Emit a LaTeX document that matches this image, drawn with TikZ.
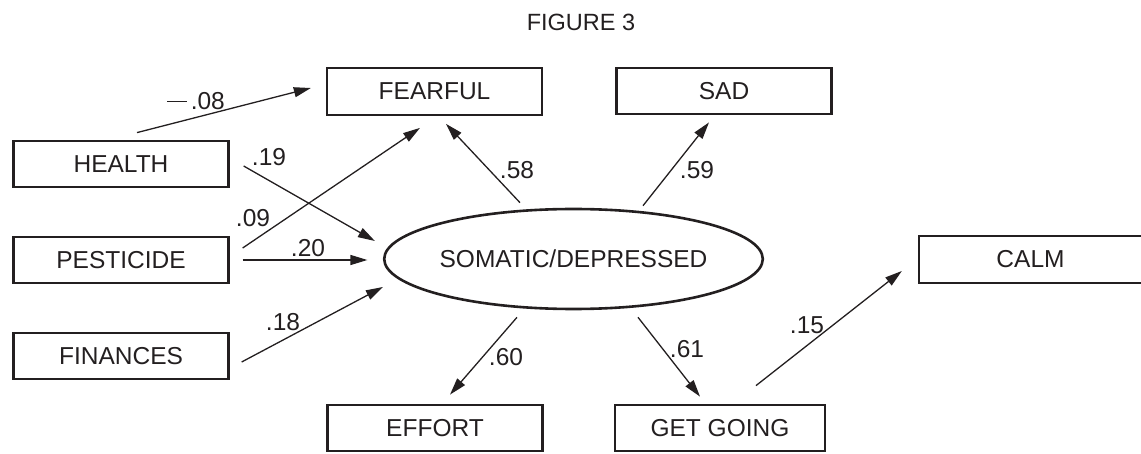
\documentclass[tikz,border=0pt]{standalone}
\usepackage{fontspec}
\setmainfont{Liberation Sans}
\usetikzlibrary{arrows.meta,shapes.geometric}
\definecolor{ink}{HTML}{231F20}
\begin{document}
\begin{tikzpicture}[x=1pt,y=-1pt,
  every node/.style={text=ink,font=\fontsize{24.5}{28}\selectfont},
  var/.style={draw=ink,line width=2.3pt,rectangle,inner sep=0pt,
    minimum width=215pt,minimum height=46.5pt},
  latent/.style={draw=ink,line width=2.6pt,ellipse,inner sep=0pt,
    minimum width=358pt,minimum height=100pt},
  path/.style={draw=ink,line width=1.3pt,
    -{Triangle[length=17pt,width=10pt]}},
  coef/.style={inner sep=0pt}]
\useasboundingbox (0,0) rectangle (1141,454);

% title
\node[font=\fontsize{23.5}{27}\selectfont] (title) at (581,22) {FIGURE 3};

% observed variables
\node[var] (health)    at (121,164)   {HEALTH};
\node[var] (pesticide) at (121,260)   {PESTICIDE};
\node[var] (finances)  at (121,356)   {FINANCES};
\node[var] (fearful)   at (434.5,91.5) {FEARFUL};
\node[var] (sad)       at (724,91)    {SAD};
\node[var] (effort)    at (435,428)   {EFFORT};
\node[var,minimum width=210pt] (getgoing) at (720,428) {GET GOING};
\node[var,minimum width=223pt] (calm) at (1030.5,259.5) {CALM};

% latent factor
\node[latent] (som) at (573.5,259) {SOMATIC/DEPRESSED};

% structural paths
\draw[path] ([shift={(16,-7)}]health.north)  -- ([shift={(-15,-3.5)}]fearful.west);
\draw[path] ([shift={(14,2)}]health.east)    -- ([shift={(-8,-18)}]som.west);
\draw[path] ([shift={(13,-12)}]pesticide.east) -- ([shift={(-14.5,12)}]fearful.south);
\draw[path] ([shift={(13,0)}]pesticide.east) -- ([shift={(-15.5,1)}]som.west);
\draw[path] ([shift={(12,6)}]finances.east)  -- ([shift={(0,28)}]som.west);

% measurement paths
\draw[path] ([shift={(-53.5,-5)}]som.north) -- ([shift={(11.5,8)}]fearful.south);
\draw[path] ([shift={(69.5,-2)}]som.north)  -- ([shift={(-15,7)}]sad.south);
\draw[path] ([shift={(-56.5,7)}]som.south)  -- ([shift={(15,-9)}]effort.north);
\draw[path] ([shift={(64.5,7)}]som.south)   -- ([shift={(-20,-7)}]getgoing.north);
\draw[path] ([shift={(36,-18)}]getgoing.north) -- ([shift={(-16,11.5)}]calm.west);

% coefficients
\node[coef] (c1)  at (196,101) {\rule[0.3em]{0.8em}{1.2pt}\,.08};
\node[coef] (c2)  at (269,157) {.19};
\node[coef] (c3)  at (253,218) {.09};
\node[coef] (c4)  at (308,248) {.20};
\node[coef] (c5)  at (283,322) {.18};
\node[coef] (c6)  at (517,170) {.58};
\node[coef] (c7)  at (697,170) {.59};
\node[coef] (c8)  at (506,357) {.60};
\node[coef] (c9)  at (687,349) {.61};
\node[coef] (c10) at (807,325) {.15};
\end{tikzpicture}
\end{document}
